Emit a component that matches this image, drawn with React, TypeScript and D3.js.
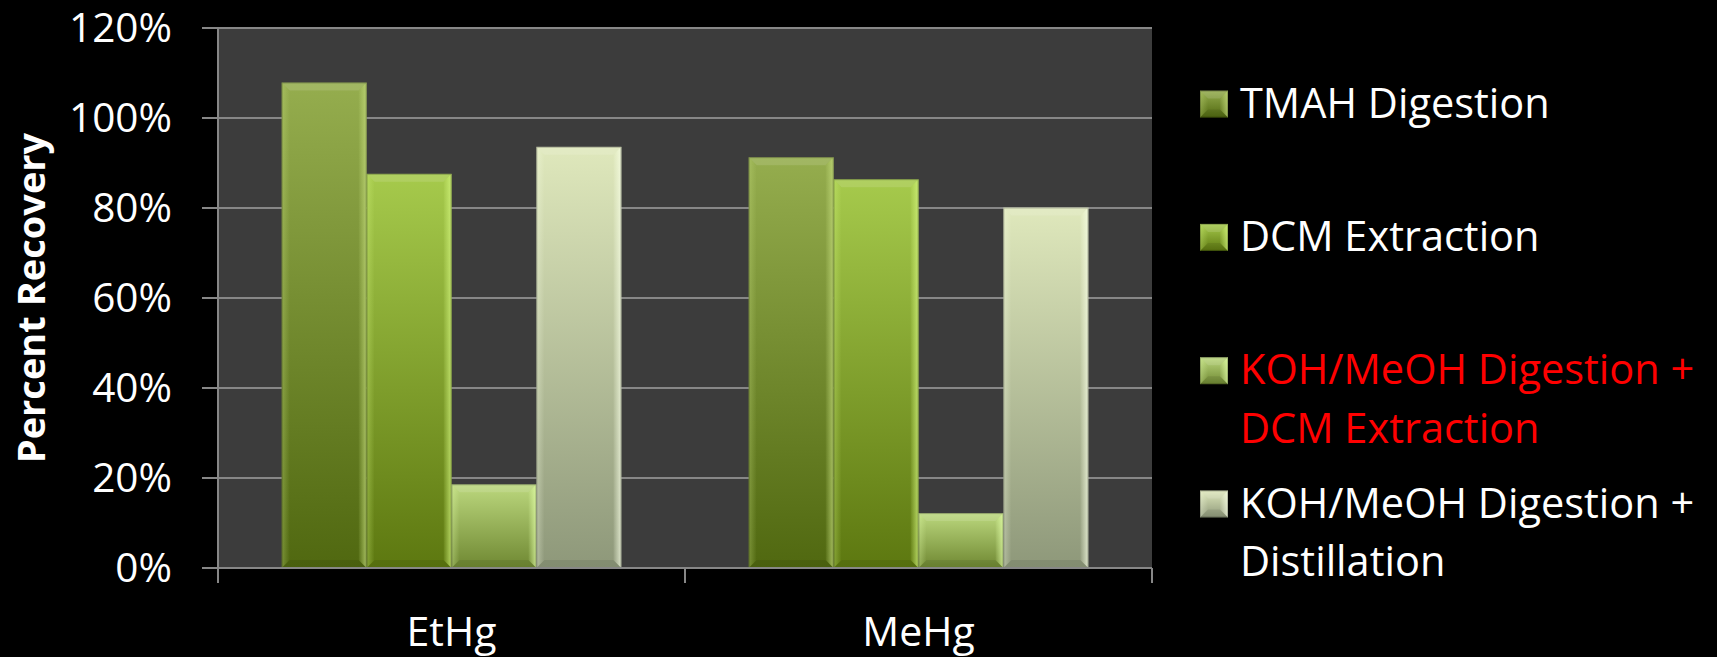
import React from "react";
import * as d3 from "d3";

// Chart data
const categories = ["EtHg", "MeHg"];
const seriesNames = [
  "TMAH Digestion",
  "DCM Extraction",
  "KOH/MeOH Digestion + DCM Extraction",
  "KOH/MeOH Digestion + Distillation",
];
// Percent recovery per series, in category order
const tmahValues = [107.9, 91.3];
const dcmValues = [87.6, 86.4];
const kohDcmValues = [18.6, 12.2];
const kohDistValues = [93.6, 80.1];
const seriesValues = [tmahValues, dcmValues, kohDcmValues, kohDistValues];
const yTicks = [0, 20, 40, 60, 80, 100, 120];
// Legend labels, split into display lines
const legendLines = [
  ["TMAH Digestion"],
  ["DCM Extraction"],
  ["KOH/MeOH Digestion +", "DCM Extraction"],
  ["KOH/MeOH Digestion +", "Distillation"],
];
const legendColors = ["#ffffff", "#ffffff", "#ff0000", "#ffffff"];

// Fill styles per series: [top, bottom, edge highlight]
const palette = [
  { top: "#95ad4e", bottom: "#506810", edge: "#c4dc7c" },
  { top: "#a6ca4c", bottom: "#5d7810", edge: "#d4f67e" },
  { top: "#bcd87e", bottom: "#6f8832", edge: "#e2ffa8" },
  { top: "#dfe8bc", bottom: "#8e987a", edge: "#f8ffe6" },
];

const W = 1717;
const H = 657;
const plot = { left: 218, right: 1152, top: 28, bottom: 568 };
const FONT = "'Open Sans', 'Noto Sans', sans-serif";

function BevelBar({ x, y, w, h, i }) {
  const b = Math.min(8, h / 2, w / 2);
  const pts = (arr) => arr.map((q) => q.join(",")).join(" ");
  return (
    <g>
      <rect x={x} y={y} width={w} height={h} fill={`url(#grad-${i})`} />
      {/* top facet */}
      <polygon
        points={pts([[x, y], [x + w, y], [x + w - b, y + b], [x + b, y + b]])}
        fill="#ffffff"
        opacity={0.12}
      />
      {/* left facet */}
      <polygon
        points={pts([[x, y], [x + b, y + b], [x + b, y + h - b], [x, y + h]])}
        fill={`url(#edgeL-${i})`}
      />
      {/* right facet */}
      <polygon
        points={pts([[x + w, y], [x + w, y + h], [x + w - b, y + h - b], [x + w - b, y + b]])}
        fill={`url(#edgeR-${i})`}
      />
      {/* bottom facet */}
      <polygon
        points={pts([[x, y + h], [x + b, y + h - b], [x + w - b, y + h - b], [x + w, y + h]])}
        fill="#000000"
        opacity={0.08}
      />
      <rect
        x={x + 0.5}
        y={y + 0.5}
        width={Math.max(0, w - 1)}
        height={Math.max(0, h - 1)}
        fill="none"
        stroke="#000000"
        strokeOpacity={0.22}
        strokeWidth={1}
      />
    </g>
  );
}

export default function App() {
  React.useEffect(() => {
    document.body.style.margin = "0";
    document.body.style.background = "#000";
  }, []);

  const x0 = d3
    .scaleBand()
    .domain(categories)
    .range([plot.left, plot.right])
    .paddingInner(0)
    .paddingOuter(0);
  const x1 = d3
    .scaleBand()
    .domain(d3.range(seriesNames.length).map(String))
    .range([0, x0.bandwidth()])
    .paddingInner(0)
    .paddingOuter(0.75);
  const y = d3.scaleLinear().domain([0, 120]).range([plot.bottom, plot.top]);

  const xTickPositions = [plot.left, ...categories.map((c) => (x0(c) as number) + x0.bandwidth())];

  const legendX = 1200;
  const legendTextX = 1240;
  const legendBase0 = 117.6;
  const legendStep = 133.3;
  const lineStep = 58.6;

  return (
    <svg
      width={W}
      height={H}
      style={{ position: "absolute", left: 0, top: 0, display: "block" }}
    >
      <defs>
        {palette.map((p, i) => (
          <React.Fragment key={i}>
            <linearGradient id={`grad-${i}`} x1="0" y1="0" x2="0" y2="1">
              <stop offset="0" stopColor={p.top} />
              <stop offset="1" stopColor={p.bottom} />
            </linearGradient>
            <linearGradient id={`edgeR-${i}`} x1="0" y1="0" x2="1" y2="0">
              <stop offset="0" stopColor={p.edge} stopOpacity={0.05} />
              <stop offset="1" stopColor={p.edge} stopOpacity={0.75} />
            </linearGradient>
            <linearGradient id={`edgeL-${i}`} x1="0" y1="0" x2="1" y2="0">
              <stop offset="0" stopColor={p.edge} stopOpacity={0.35} />
              <stop offset="1" stopColor={p.edge} stopOpacity={0.0} />
            </linearGradient>
          </React.Fragment>
        ))}
      </defs>

      <rect x={0} y={0} width={W} height={H} fill="#000000" />

      {/* plot area */}
      <rect
        x={plot.left}
        y={plot.top}
        width={plot.right - plot.left}
        height={plot.bottom - plot.top}
        fill="#3c3c3c"
      />

      {/* gridlines and y ticks */}
      {yTicks.map((t) => (
        <g key={t}>
          <line
            x1={plot.left - 16}
            x2={plot.right}
            y1={y(t)}
            y2={y(t)}
            stroke="#878787"
            strokeWidth={2}
          />
          <text
            x={172}
            y={y(t) + 14}
            textAnchor="end"
            fill="#ffffff"
            fontFamily={FONT}
            fontSize={40.5}
          >
            {`${t}%`}
          </text>
        </g>
      ))}

      {/* bars */}
      {categories.map((c, ci) =>
        seriesValues.map((vals, si) => {
          const bx = (x0(c) as number) + (x1(String(si)) as number);
          const by = y(vals[ci]);
          return (
            <BevelBar
              key={`${c}-${si}`}
              x={bx}
              y={by}
              w={x1.bandwidth()}
              h={y(0) - by}
              i={si}
            />
          );
        })
      )}

      {/* axes */}
      <line
        x1={plot.left}
        x2={plot.left}
        y1={plot.top}
        y2={plot.bottom + 15}
        stroke="#878787"
        strokeWidth={2}
      />
      <line
        x1={plot.left - 16}
        x2={plot.right}
        y1={plot.bottom}
        y2={plot.bottom}
        stroke="#878787"
        strokeWidth={2}
      />
      {xTickPositions.map((tx, k) => (
        <line
          key={k}
          x1={tx}
          x2={tx}
          y1={plot.bottom}
          y2={plot.bottom + 15}
          stroke="#878787"
          strokeWidth={2}
        />
      ))}

      {/* category labels */}
      {categories.map((c) => (
        <text
          key={c}
          x={(x0(c) as number) + x0.bandwidth() / 2}
          y={646}
          textAnchor="middle"
          fill="#ffffff"
          fontFamily={FONT}
          fontSize={41}
        >
          {c}
        </text>
      ))}

      {/* y axis title */}
      <text
        transform={`translate(45, 298) rotate(-90)`}
        textAnchor="middle"
        fill="#ffffff"
        fontFamily={FONT}
        fontWeight={700}
        fontSize={38}
      >
        Percent Recovery
      </text>

      {/* legend */}
      {legendLines.map((lines, i) => {
        const base = legendBase0 + i * legendStep;
        return (
          <g key={i}>
            <BevelBar x={legendX} y={base - 27} w={28} h={27} i={i} />
            {lines.map((ln, li) => (
              <text
                key={li}
                x={legendTextX}
                y={base + li * lineStep}
                fill={legendColors[i]}
                fontFamily={FONT}
                fontSize={41.5}
              >
                {ln}
              </text>
            ))}
          </g>
        );
      })}
    </svg>
  );
}
